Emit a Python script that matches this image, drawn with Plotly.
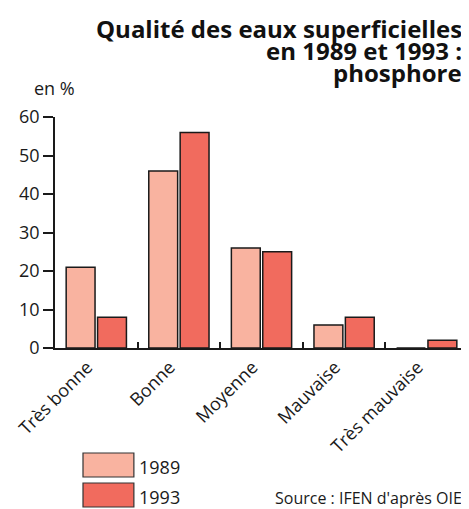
import plotly.graph_objects as go

categories = ["Très bonne", "Bonne", "Moyenne", "Mauvaise", "Très mauvaise"]
values_1989 = [21, 46, 26, 6, 0]
values_1993 = [8, 56, 25, 8, 2]
y_ticks = [0, 10, 20, 30, 40, 50, 60]

LIGHT = "#F9B3A0"
DARK = "#F16B5E"
FONT = "Open Sans"

fig = go.Figure()
fig.add_trace(go.Bar(x=categories, y=values_1989, name="1989", marker=dict(color=LIGHT, line=dict(color="#1a1a1a", width=1.5))))
fig.add_trace(go.Bar(x=categories, y=values_1993, name="1993", marker=dict(color=DARK, line=dict(color="#1a1a1a", width=1.5))))

# the page puts the figure 8px in from the corner, so the figure is 8px smaller
fig.update_layout(
    width=461, height=501,
    margin=dict(l=47, r=1, t=109, b=161),
    plot_bgcolor="white", paper_bgcolor="white",
    barmode="group", bargap=0.24, bargroupgap=0.08,
    showlegend=False,
    font=dict(family=FONT, size=17, color="#1a1a1a"),
)
fig.update_xaxes(showline=True, linecolor="#1a1a1a", linewidth=1.5, ticks="inside", ticklen=6,
                 tickwidth=1.5, tickcolor="#1a1a1a", tickson="boundaries", tickangle=-45,
                 tickfont=dict(size=18), ticklabelshift=-9, showgrid=False)
fig.update_yaxes(range=[0, 60], tickvals=y_ticks, showline=True, linecolor="#1a1a1a", linewidth=1.5,
                 ticks="outside", ticklen=10, tickwidth=1.5, tickcolor="#1a1a1a", showgrid=False,
                 zeroline=False, tickfont=dict(size=18))

# title, three right-aligned lines
title_lines = ["Qualité des eaux superficielles", "en 1989 et 1993 :", "phosphore"]
for i, line in enumerate(title_lines):
    fig.add_annotation(text="<b>%s</b>" % line, xref="paper", yref="paper", x=0.99, y=1.385 - i * 0.097,
                       xanchor="right", yanchor="middle", showarrow=False,
                       font=dict(family=FONT, size=24, color="#111"))

fig.add_annotation(text="en %", xref="paper", yref="paper", x=-0.055, y=1.125, xanchor="left",
                   yanchor="middle", showarrow=False, font=dict(size=18))

# legend drawn by hand to get the large swatches
legend_items = [("1989", LIGHT), ("1993", DARK)]
for i, (label, color) in enumerate(legend_items):
    y0 = -0.4545 - i * 0.1299
    fig.add_shape(type="rect", xref="paper", yref="paper", x0=0.0678, x1=0.191, y0=y0, y1=y0 - 0.1039,
                  fillcolor=color, line=dict(color="#333", width=1.2))
    fig.add_annotation(text=label, xref="paper", yref="paper", x=0.198, y=y0 - 0.06, xanchor="left",
                       yanchor="middle", showarrow=False, font=dict(size=18))

fig.add_annotation(text="Source : IFEN d'après OIE", xref="paper", yref="paper", x=0.99, y=-0.65,
                   xanchor="right", yanchor="middle", showarrow=False, font=dict(size=16))

fig.write_html("out.html")
